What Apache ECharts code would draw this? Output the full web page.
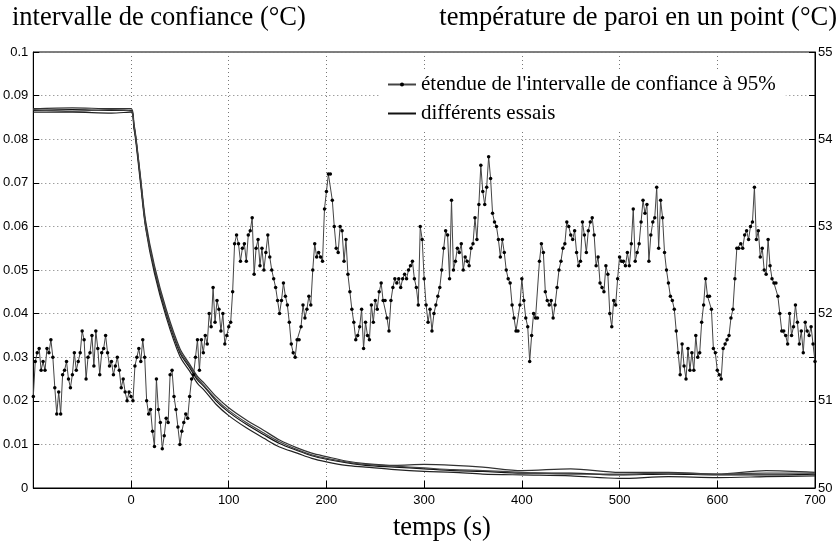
<!DOCTYPE html>
<html>
<head>
<meta charset="utf-8">
<script src="https://cdn.jsdelivr.net/npm/echarts@6/dist/echarts.min.js"></script>
<style>
  html, body { margin: 0; padding: 0; background: #fff; }
  #chart { width: 837px; height: 549px; }
</style>
</head>
<body>
<div id="chart"></div>
<script>
// intervalle de confiance : un point toutes les 2 s, de -100 s a 700 s
let tDebut = -100
let pas = 2
let intervalle = [
  // -100 .. -2
  0.021,0.029,0.031,0.032,0.027,0.029,0.027,0.032,0.031,0.034,
  0.030,0.023,0.017,0.022,0.017,0.026,0.027,0.029,0.025,0.023,
  0.026,0.031,0.027,0.029,0.031,0.036,0.034,0.025,0.030,0.031,
  0.035,0.028,0.036,0.032,0.026,0.031,0.032,0.035,0.031,0.028,
  0.029,0.026,0.028,0.030,0.027,0.023,0.025,0.022,0.020,0.022,
  // 0 .. 98
  0.021,0.020,0.028,0.030,0.032,0.029,0.034,0.030,0.020,0.017,
  0.018,0.013,0.0095,0.025,0.018,0.015,0.009,0.012,0.016,0.015,
  0.026,0.027,0.021,0.018,0.014,0.010,0.013,0.015,0.017,0.016,
  0.021,0.025,0.026,0.030,0.034,0.027,0.034,0.031,0.035,0.033,
  0.040,0.037,0.046,0.038,0.043,0.041,0.036,0.040,0.033,0.035,
  // 100 .. 298
  0.037,0.038,0.045,0.056,0.058,0.056,0.052,0.055,0.056,0.052,
  0.058,0.059,0.062,0.049,0.055,0.057,0.051,0.055,0.050,0.054,
  0.058,0.053,0.050,0.048,0.046,0.043,0.040,0.043,0.047,0.044,
  0.042,0.038,0.033,0.031,0.030,0.034,0.034,0.037,0.042,0.039,
  0.041,0.044,0.042,0.050,0.056,0.053,0.054,0.053,0.052,0.064,
  0.068,0.072,0.072,0.066,0.060,0.055,0.054,0.060,0.059,0.052,
  0.057,0.049,0.045,0.041,0.038,0.034,0.035,0.037,0.041,0.032,
  0.038,0.035,0.034,0.042,0.038,0.043,0.041,0.045,0.047,0.043,
  0.043,0.039,0.036,0.043,0.046,0.048,0.047,0.048,0.046,0.048,
  0.049,0.048,0.050,0.051,0.052,0.048,0.046,0.042,0.060,0.057,
  // 300 .. 498
  0.048,0.042,0.038,0.041,0.036,0.040,0.042,0.044,0.046,0.050,
  0.055,0.059,0.058,0.048,0.066,0.050,0.052,0.055,0.054,0.056,
  0.050,0.053,0.052,0.051,0.055,0.056,0.062,0.057,0.065,0.074,
  0.068,0.065,0.069,0.076,0.071,0.063,0.061,0.060,0.057,0.053,
  0.057,0.054,0.050,0.048,0.047,0.042,0.039,0.036,0.036,0.042,
  0.048,0.043,0.039,0.037,0.029,0.035,0.040,0.039,0.039,0.052,
  0.056,0.054,0.045,0.043,0.042,0.043,0.039,0.042,0.046,0.050,
  0.052,0.055,0.056,0.061,0.060,0.058,0.057,0.059,0.054,0.051,
  0.052,0.061,0.058,0.054,0.059,0.061,0.062,0.058,0.051,0.053,
  0.047,0.046,0.045,0.051,0.049,0.040,0.037,0.043,0.042,0.048,
  // 500 .. 700
  0.053,0.052,0.052,0.051,0.054,0.051,0.056,0.064,0.052,0.054,
  0.056,0.061,0.066,0.063,0.065,0.052,0.058,0.061,0.062,0.069,
  0.055,0.066,0.062,0.054,0.050,0.047,0.044,0.043,0.041,0.036,
  0.031,0.026,0.033,0.028,0.025,0.032,0.027,0.031,0.027,0.035,
  0.030,0.031,0.038,0.042,0.048,0.044,0.044,0.041,0.032,0.031,
  0.027,0.026,0.025,0.032,0.033,0.034,0.035,0.039,0.041,0.048,
  0.055,0.055,0.056,0.055,0.058,0.059,0.057,0.060,0.061,0.069,
  0.057,0.059,0.053,0.055,0.050,0.049,0.057,0.051,0.048,0.047,
  0.047,0.044,0.040,0.036,0.036,0.035,0.033,0.040,0.035,0.037,
  0.042,0.038,0.033,0.036,0.031,0.038,0.036,0.035,0.037,0.033,
  0.029
]

// temperature de paroi pour les differents essais
let tEssais = [-100,-60,-20,0,3,5,10,15,24,36,50,60,68,75,87,100,118,136,152,170,185,200,220,240,270,300,330,360,400,450,500,550,600,650,700]
let essai1 = [54.33,54.34,54.33,54.33,54.15,54.00,53.50,53.02,52.50,52.00,51.55,51.38,51.24,51.16,51.00,50.87,50.73,50.61,50.51,50.43,50.37,50.33,50.29,50.26,50.24,50.22,50.20,50.19,50.17,50.17,50.15,50.16,50.15,50.15,50.16]
let essai2 = [54.35,54.36,54.35,54.35,54.18,54.03,53.54,53.06,52.55,52.05,51.60,51.42,51.28,51.20,51.05,50.92,50.78,50.66,50.55,50.46,50.40,50.36,50.31,50.28,50.26,50.27,50.26,50.24,50.20,50.22,50.18,50.18,50.16,50.20,50.18]
let essai3 = [54.31,54.31,54.30,54.31,54.12,53.97,53.46,52.98,52.46,51.96,51.51,51.34,51.20,51.12,50.96,50.83,50.69,50.57,50.47,50.40,50.34,50.30,50.26,50.24,50.21,50.19,50.18,50.16,50.15,50.14,50.11,50.13,50.12,50.13,50.14]
let essai4 = [54.34,54.32,54.34,54.32,54.16,54.01,53.52,53.00,52.52,52.02,51.57,51.40,51.26,51.17,51.02,50.89,50.75,50.63,50.53,50.44,50.38,50.34,50.30,50.27,50.25,50.23,50.21,50.20,50.18,50.16,50.16,50.17,50.16,50.17,50.17]

let nomIntervalle = "étendue de l'intervalle de confiance à 95%"
let nomEssais = 'différents essais'

let myChart = echarts.init(document.getElementById('chart'))

let serif = 'Liberation Serif'
let sans = 'Liberation Sans'
let grille = { show: true, lineStyle: { color: '#777', type: [1, 3], width: 1 } }
let styleTitre = { fontFamily: serif, fontSize: 26.5, fontWeight: 'normal', color: '#000' }

function courbeEssai(valeurs, couleur){
  return {
    name: nomEssais,
    type: 'line',
    yAxisIndex: 1,
    smooth: 0.3,
    symbol: 'none',
    itemStyle: { color: couleur },
    lineStyle: { color: couleur, width: 1.2 },
    data: tEssais.map((t, i) => [t, valeurs[i]])
  }
}

let option = {
  animation: false,
  backgroundColor: '#fff',
  title: [
    { text: 'intervalle de confiance (°C)', left: 12, top: 5, padding: 0, textStyle: styleTitre },
    { text: 'température de paroi en un point (°C)', right: 0, top: 5, padding: 0, textStyle: styleTitre },
    { text: 'temps (s)', left: 393, top: 515, padding: 0, textStyle: styleTitre }
  ],
  legend: {
    data: [
      { name: nomIntervalle },
      { name: nomEssais, itemStyle: { opacity: 0 } }
    ],
    orient: 'vertical',
    left: 381,
    top: 70,
    padding: [4, 10, 5, 6],
    itemGap: 8,
    itemWidth: 28,
    itemHeight: 5,
    backgroundColor: '#fff',
    textStyle: { fontFamily: serif, fontSize: 21, color: '#000' }
  },
  grid: { left: 33, right: 22, top: 52, bottom: 61, show: true, borderColor: '#000', borderWidth: 1 },
  xAxis: {
    type: 'value', min: -100, max: 700, interval: 100,
    axisLine: { onZero: false, lineStyle: { color: '#000' } },
    axisTick: { inside: true, length: 7, lineStyle: { color: '#000' } },
    axisLabel: { fontFamily: sans, fontSize: 13, color: '#000', margin: 6,
      formatter: v => v === -100 ? '' : String(v) },
    splitLine: grille
  },
  yAxis: [
    {
      type: 'value', min: 0, max: 0.1, interval: 0.01,
      axisLine: { show: true, onZero: false, lineStyle: { color: '#000' } },
      axisTick: { show: true, inside: true, length: 6, lineStyle: { color: '#000' } },
      axisLabel: { fontFamily: sans, fontSize: 13, color: '#000', margin: 5,
        formatter: v => String(+v.toFixed(2)) },
      splitLine: grille
    },
    {
      type: 'value', position: 'right', min: 50, max: 55, interval: 0.5,
      axisLine: { show: true, onZero: false, lineStyle: { color: '#000' } },
      axisTick: { show: true, inside: true, length: 6, lineStyle: { color: '#000' } },
      axisLabel: { fontFamily: sans, fontSize: 13, color: '#000', margin: 3,
        formatter: v => Number.isInteger(v) ? String(v) : '' },
      splitLine: { show: false }
    }
  ],
  series: [
    {
      name: nomIntervalle,
      type: 'line',
      yAxisIndex: 0,
      symbol: 'circle',
      symbolSize: 3.5,
      showAllSymbol: true,
      itemStyle: { color: '#000' },
      lineStyle: { color: '#444', width: 1 },
      data: intervalle.map((v, i) => [tDebut + pas * i, v])
    },
    courbeEssai(essai1, '#111'),
    courbeEssai(essai2, '#333'),
    courbeEssai(essai3, '#222'),
    courbeEssai(essai4, '#444')
  ]
}
myChart.setOption(option)
</script>
</body>
</html>
